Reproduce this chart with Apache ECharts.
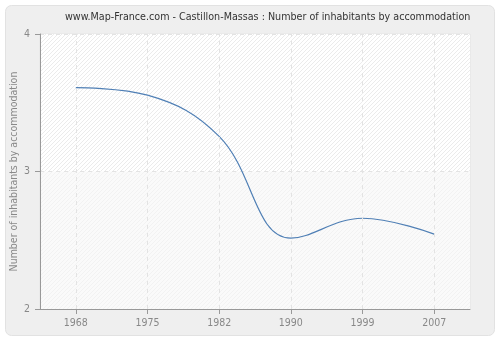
<!DOCTYPE html>
<html>
<head>
<meta charset="utf-8">
<script src="https://cdn.jsdelivr.net/npm/echarts@6/dist/echarts.min.js"></script>
<style>
html,body{margin:0;padding:0;background:#ffffff;}
#chart{width:500px;height:340px;}
</style>
</head>
<body>
<div id="chart"></div>
<script>
const titleText = 'www.Map-France.com - Castillon-Massas : Number of inhabitants by accommodation';
const yAxisName = 'Number of inhabitants by accommodation';
const years = ['1968', '1975', '1982', '1990', '1999', '2007'];
const values = [3.61, 3.555, 3.255, 2.515, 2.66, 2.545];
const yTicks = [2, 3, 4];

function hatch(bg, line) {
  const s = 4;
  const c = document.createElement('canvas');
  c.width = s; c.height = s;
  const g = c.getContext('2d');
  g.fillStyle = bg; g.fillRect(0, 0, s, s);
  g.strokeStyle = line; g.lineWidth = 1;
  g.beginPath();
  g.moveTo(0, s); g.lineTo(s, 0);
  g.moveTo(-s, s); g.lineTo(s, -s);
  g.moveTo(0, 2 * s); g.lineTo(2 * s, 0);
  g.stroke();
  return { image: c, repeat: 'repeat' };
}

const FONT = 'DejaVu Sans Condensed, DejaVu Sans';
const chart = echarts.init(document.getElementById('chart'), null, { renderer: 'canvas' });
chart.setOption({
  backgroundColor: '#ffffff',
  animation: false,
  graphic: [{
    type: 'rect', z: -10, silent: true,
    shape: { x: 5.5, y: 5.5, width: 489, height: 330, r: 6 },
    style: { fill: '#efefef', stroke: '#e2e2e2', lineWidth: 1 }
  }],
  title: {
    text: titleText,
    left: 65, top: 12, padding: 0,
    textStyle: { fontFamily: FONT, fontSize: 10.65, fontWeight: 'normal', color: '#333333' }
  },
  grid: {
    left: 40, right: 30, top: 34, bottom: 31,
    outerBoundsMode: 'none', containLabel: false,
    show: true, backgroundColor: '#ffffff', borderColor: '#e4e4e4', borderWidth: 1
  },
  xAxis: {
    type: 'category',
    data: years,
    boundaryGap: true,
    axisLine: { show: true, lineStyle: { color: '#999999' } },
    axisTick: { show: true, alignWithLabel: true, length: 5, lineStyle: { color: '#999999' } },
    axisLabel: { color: '#888888', fontFamily: FONT, fontSize: 10.5, margin: 9 },
    splitLine: { show: false }
  },
  yAxis: {
    type: 'value',
    min: yTicks[0], max: yTicks[yTicks.length - 1], interval: 1,
    name: yAxisName,
    nameLocation: 'middle',
    nameGap: 20,
    nameMoveOverlap: false,
    nameTextStyle: { color: '#888888', fontFamily: FONT, fontSize: 10.5 },
    axisLine: { show: true, lineStyle: { color: '#999999' } },
    axisTick: { show: true, length: 5, lineStyle: { color: '#999999' } },
    axisLabel: { color: '#888888', fontFamily: FONT, fontSize: 10.5, margin: 10 },
    splitLine: { show: true, lineStyle: { color: '#e3e3e3', type: [4, 4] } },
    splitArea: { show: true, areaStyle: { color: [hatch('#fafafa', '#f2f2f2'), hatch('#ffffff', '#ebebeb')] } }
  },
  series: [{
    type: 'line',
    data: values,
    smooth: 0.4,
    symbol: 'none',
    lineStyle: { color: '#4f7fb5', width: 1.2 },
    markLine: {
      silent: true,
      symbol: ['none', 'none'],
      label: { show: false },
      lineStyle: { color: '#e3e3e3', type: [4, 4], width: 1 },
      data: years.map(y => ({ xAxis: y }))
    }
  }]
});
</script>
</body>
</html>
